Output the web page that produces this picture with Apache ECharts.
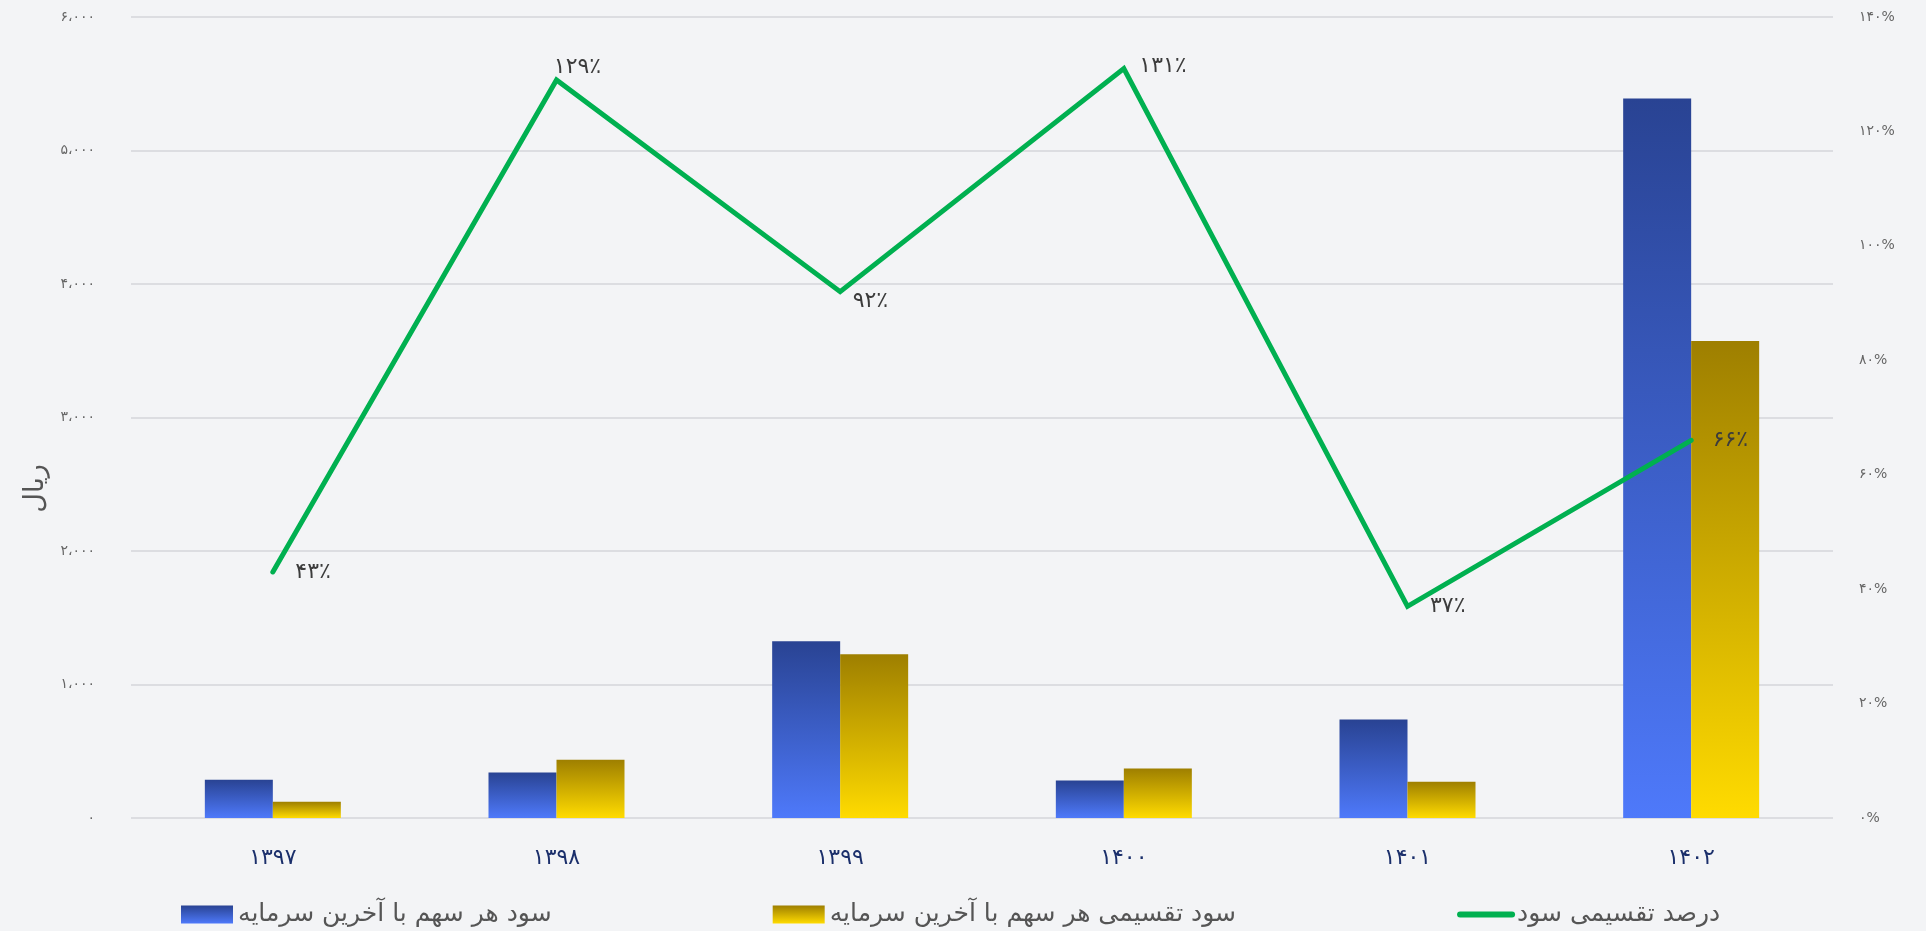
<!DOCTYPE html>
<html>
<head>
<meta charset="utf-8">
<script src="https://cdn.jsdelivr.net/npm/echarts@6/dist/echarts.min.js"></script>
<style>
html,body{margin:0;padding:0;background:#f3f4f6;}
#chart{width:1926px;height:931px;}
</style>
</head>
<body>
<div id="chart"></div>
<script>
// ---- data ----
const categories = ['۱۳۹۷', '۱۳۹۸', '۱۳۹۹', '۱۴۰۰', '۱۴۰۱', '۱۴۰۲'];
const seriesNames = ['سود هر سهم با آخرین سرمایه', 'سود تقسیمی هر سهم با آخرین سرمایه', 'درصد تقسیمی سود'];
const epsValues = [2870, 3400, 13240, 2810, 7370, 53900];
const dpsValues = [1220, 4370, 12270, 3710, 2720, 35730];
const payoutPercent = [43, 129, 92, 131, 37, 66];
const leftTickLabels = ['۰', '۱،۰۰۰', '۲،۰۰۰', '۳،۰۰۰', '۴،۰۰۰', '۵،۰۰۰', '۶،۰۰۰'];
const rightTickLabels = ['۰%', '۲۰%', '۴۰%', '۶۰%', '۸۰%', '۱۰۰%', '۱۲۰%', '۱۴۰%'];
const leftAxisName = 'ریال';

// ---- helpers ----
const faDigits = '۰۱۲۳۴۵۶۷۸۹';
function toFa(n) { return String(n).replace(/[0-9]/g, d => faDigits[+d]); }

const FONT = "'DejaVu Sans', 'Noto Sans', sans-serif";
// per-point label placement (style only)
const lineLabelPlacement = [
  { position: 'right', distance: 22, offset: [0, 0] },
  { position: 'top', distance: 1, offset: [21, 0] },
  { position: 'right', distance: 12, offset: [0, 10] },
  { position: 'right', distance: 15, offset: [0, -2] },
  { position: 'right', distance: 22, offset: [0, 0] },
  { position: 'right', distance: 21, offset: [0, 0] }
];

const chart = echarts.init(document.getElementById('chart'), null, { renderer: 'canvas' });

const blueGrad = new echarts.graphic.LinearGradient(0, 0, 0, 1, [
  { offset: 0, color: '#294393' }, { offset: 1, color: '#4e79fa' }
]);
const goldGrad = new echarts.graphic.LinearGradient(0, 0, 0, 1, [
  { offset: 0, color: '#9e7f00' }, { offset: 1, color: '#ffdb00' }
]);

const option = {
  backgroundColor: '#f3f4f6',
  animation: false,
  textStyle: { fontFamily: FONT },
  grid: { left: 131, right: 93, top: 17, bottom: 113, containLabel: false },
  legend: {
    left: 176,
    top: 897,
    itemGap: 221,
    itemWidth: 52,
    itemHeight: 18,
    textStyle: { fontSize: 25, color: '#555', fontFamily: FONT },
    data: [
      { name: seriesNames[0], icon: 'rect' },
      { name: seriesNames[1], icon: 'rect' },
      { name: seriesNames[2], itemStyle: { opacity: 0 }, lineStyle: { width: 6, cap: 'round', color: '#00b050' } }
    ]
  },
  xAxis: {
    type: 'category',
    data: categories,
    axisLine: { show: false },
    axisTick: { show: false },
    axisLabel: { color: '#1b2f6b', fontSize: 22, margin: 29, fontFamily: FONT }
  },
  yAxis: [
    {
      type: 'value',
      min: 0, max: 60000, interval: 10000,
      name: leftAxisName,
      nameLocation: 'middle',
      nameGap: 80,
      nameTextStyle: { fontSize: 27, color: '#555', padding: [0, 142, 0, 0], fontFamily: FONT },
      axisLabel: {
        color: '#666', fontSize: 14, margin: 36, fontFamily: FONT,
        formatter: v => leftTickLabels[Math.round(v / 10000)]
      },
      splitLine: { lineStyle: { color: '#dcdde1', width: 2 } },
      axisLine: { show: false },
      axisTick: { show: false }
    },
    {
      type: 'value',
      min: 0, max: 140, interval: 20,
      axisLabel: {
        color: '#666', fontSize: 14, margin: 26, fontFamily: FONT,
        formatter: v => rightTickLabels[Math.round(v / 20)]
      },
      splitLine: { show: false },
      axisLine: { show: false },
      axisTick: { show: false }
    }
  ],
  series: [
    {
      name: seriesNames[0],
      type: 'bar',
      barWidth: 68,
      barGap: '0%',
      itemStyle: { color: blueGrad },
      data: epsValues
    },
    {
      name: seriesNames[1],
      type: 'bar',
      barWidth: 68,
      barGap: '0%',
      itemStyle: { color: goldGrad },
      data: dpsValues
    },
    {
      name: seriesNames[2],
      type: 'line',
      yAxisIndex: 1,
      symbol: 'circle',
      symbolSize: 1,
      showSymbol: true,
      itemStyle: { color: '#00b050' },
      lineStyle: { color: '#00b050', width: 5, cap: 'round', join: 'miter' },
      label: {
        show: true,
        color: '#3c3c3c',
        fontSize: 22,
        fontFamily: FONT,
        formatter: p => toFa(p.value) + '٪'
      },
      data: payoutPercent.map((v, i) => ({ value: v, label: lineLabelPlacement[i] })),
      z: 5
    }
  ]
};
chart.setOption(option);
</script>
</body>
</html>
